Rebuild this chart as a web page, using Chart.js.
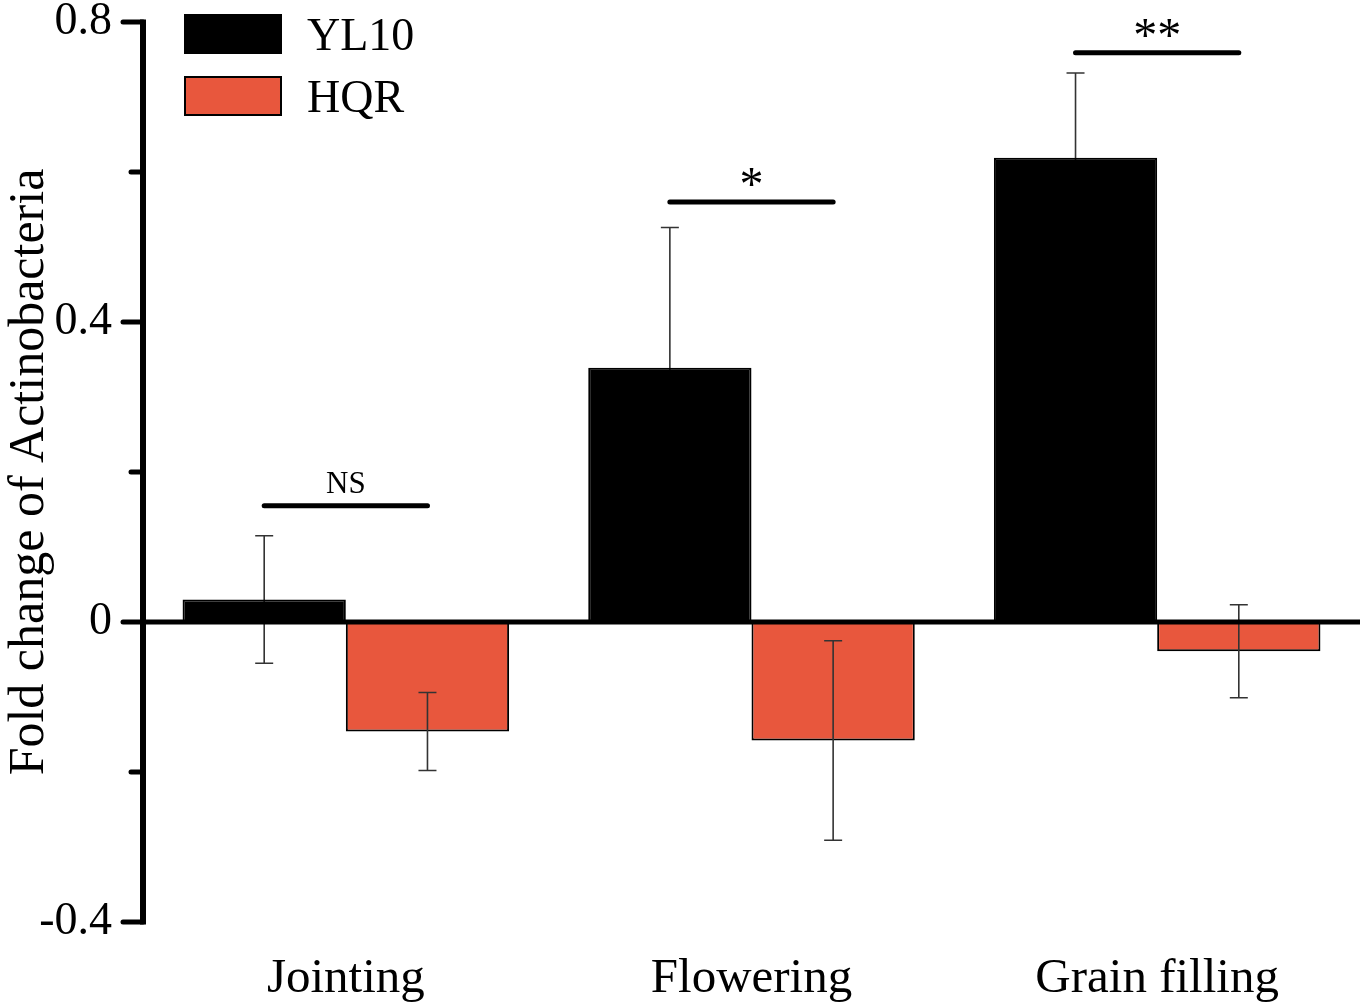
<!DOCTYPE html>
<html>
<head>
<meta charset="utf-8">
<script src="https://cdn.jsdelivr.net/npm/chart.js@4.4.1/dist/chart.umd.min.js"></script>
<style>
  html, body { margin: 0; padding: 0; background: #ffffff; }
  #wrap { width: 1366px; height: 1004px; position: relative; }
</style>
</head>
<body>
<div id="wrap"><canvas id="c"></canvas></div>
<script>
// ---- data ----
const categories = ['Jointing', 'Flowering', 'Grain filling'];
const seriesNames = ['YL10', 'HQR'];
const yl10Values = [0.030, 0.339, 0.619];
const yl10Errors = [0.085, 0.187, 0.113];
const hqrValues = [-0.146, -0.158, -0.039];
const hqrErrors = [0.052, 0.133, 0.062];
const sigLabels = ['NS', '*', '**'];
const sigLevels = [0.155, 0.560, 0.759];
const yMin = -0.4, yMax = 0.8, yStep = 0.2, yLabelStep = 0.4;
const yTitle = 'Fold change of Actinobacteria';

const colors = ['#000000', '#E8573D'];
const errors = [yl10Errors, hqrErrors];
const SERIF = '"Liberation Serif", "Times New Roman", serif';

function drawErrors(chart, di) {
  const ctx = chart.ctx;
  const y = chart.scales.y;
  const ds = chart.data.datasets[di];
  const meta = chart.getDatasetMeta(di);
  ctx.save();
  ctx.strokeStyle = '#333';
  ctx.lineWidth = 1.6;
  meta.data.forEach((bar, i) => {
    const v = ds.data[i];
    const e = errors[di][i];
    const x = bar.x;
    const yt = y.getPixelForValue(v + e);
    const yb = y.getPixelForValue(v - e);
    ctx.beginPath();
    ctx.moveTo(x, yt); ctx.lineTo(x, yb);
    ctx.moveTo(x - 9, yt); ctx.lineTo(x + 9, yt);
    ctx.moveTo(x - 9, yb); ctx.lineTo(x + 9, yb);
    ctx.stroke();
  });
  ctx.restore();
}

const decorPlugin = {
  id: 'decor',
  beforeDatasetDraw(chart, args) {
    if (args.index === 0) drawErrors(chart, 0);
  },
  afterDatasetDraw(chart, args) {
    if (args.index === 1) drawErrors(chart, 1);
  },
  afterDatasetsDraw(chart) {
    const ctx = chart.ctx;
    const y = chart.scales.y;
    const area = chart.chartArea;
    ctx.save();
    // zero line
    const y0 = y.getPixelForValue(0);
    ctx.strokeStyle = '#000';
    ctx.lineWidth = 5;
    ctx.lineCap = 'butt';
    ctx.beginPath();
    ctx.moveTo(area.left, y0);
    ctx.lineTo(area.right, y0);
    ctx.stroke();

    // significance lines
    const m0 = chart.getDatasetMeta(0), m1 = chart.getDatasetMeta(1);
    sigLevels.forEach((lv, i) => {
      const x1 = m0.data[i].x, x2 = m1.data[i].x;
      const py = y.getPixelForValue(lv);
      ctx.strokeStyle = '#000';
      ctx.lineWidth = 5;
      ctx.lineCap = 'round';
      ctx.beginPath();
      ctx.moveTo(x1, py); ctx.lineTo(x2, py);
      ctx.stroke();
      ctx.fillStyle = '#000';
      ctx.textAlign = 'center';
      ctx.textBaseline = 'alphabetic';
      if (sigLabels[i] === 'NS') {
        ctx.font = '31px ' + SERIF;
        ctx.fillText(sigLabels[i], (x1 + x2) / 2, py - 13);
      } else {
        ctx.font = '48px ' + SERIF;
        ctx.fillText(sigLabels[i], (x1 + x2) / 2, py - 2);
      }
    });

    // y axis line and ticks
    const ax = area.left;
    const yTop = y.getPixelForValue(yMax), yBot = y.getPixelForValue(yMin);
    ctx.strokeStyle = '#000';
    ctx.lineCap = 'butt';
    ctx.lineWidth = 6;
    ctx.beginPath();
    ctx.moveTo(ax, yTop - 2.5); ctx.lineTo(ax, yBot + 2.5);
    ctx.stroke();
    ctx.lineWidth = 5;
    ctx.lineCap = 'round';
    y.ticks.forEach(t => {
      const py = y.getPixelForValue(t.value);
      const major = Math.abs(Math.round(t.value / yLabelStep) * yLabelStep - t.value) < 1e-6;
      const len = major ? 20 : 12;
      ctx.beginPath();
      ctx.moveTo(ax - len, py); ctx.lineTo(ax, py);
      ctx.stroke();
    });

    // legend
    chart.data.datasets.forEach((ds, di) => {
      const bx = 185, by = 15 + di * 62, bw = 96, bh = 38;
      ctx.fillStyle = ds.backgroundColor;
      ctx.fillRect(bx, by, bw, bh);
      ctx.strokeStyle = '#000';
      ctx.lineWidth = 2;
      ctx.lineCap = 'butt';
      ctx.strokeRect(bx, by, bw, bh);
      ctx.fillStyle = '#000';
      ctx.font = '46px ' + SERIF;
      ctx.textAlign = 'left';
      ctx.textBaseline = 'alphabetic';
      ctx.fillText(ds.label, 307, by + 35);
    });
    ctx.restore();
  }
};

new Chart(document.getElementById('c'), {
  type: 'bar',
  data: {
    labels: categories,
    datasets: [
      { label: seriesNames[0], data: yl10Values, backgroundColor: colors[0], borderColor: '#000', borderWidth: 2 },
      { label: seriesNames[1], data: hqrValues, backgroundColor: colors[1], borderColor: '#000', borderWidth: 2 }
    ]
  },
  options: {
    responsive: true,
    maintainAspectRatio: false,
    animation: false,
    devicePixelRatio: 1,
    layout: { padding: { top: 22, right: 6, left: 0, bottom: 0 } },
    datasets: { bar: { categoryPercentage: 0.805, barPercentage: 1.0 } },
    plugins: { legend: { display: false }, tooltip: { enabled: false } },
    scales: {
      x: {
        grid: { display: false },
        border: { display: false },
        ticks: { color: '#000', font: { family: SERIF, size: 49 }, padding: 20, maxRotation: 0 },
        afterFit(s) { s.height = 82; s.paddingLeft = 0; s.paddingRight = 0; }
      },
      y: {
        min: yMin, max: yMax,
        grid: { display: false },
        border: { display: false },
        ticks: {
          stepSize: yStep,
          color: '#000',
          font: { family: SERIF, size: 46 },
          padding: 23,
          callback(v) {
            const r = Math.round(v / yLabelStep) * yLabelStep;
            if (Math.abs(r - v) > 1e-6) return '';
            const n = Math.round(v * 10) / 10;
            return n === 0 ? '0' : n.toFixed(1);
          }
        },
        title: { display: true, text: yTitle, color: '#000', font: { family: SERIF, size: 50 }, padding: 0 },
        afterFit(s) { s.width = 143; s.paddingTop = 0; s.paddingBottom = 0; }
      }
    }
  },
  plugins: [decorPlugin]
});
</script>
</body>
</html>
